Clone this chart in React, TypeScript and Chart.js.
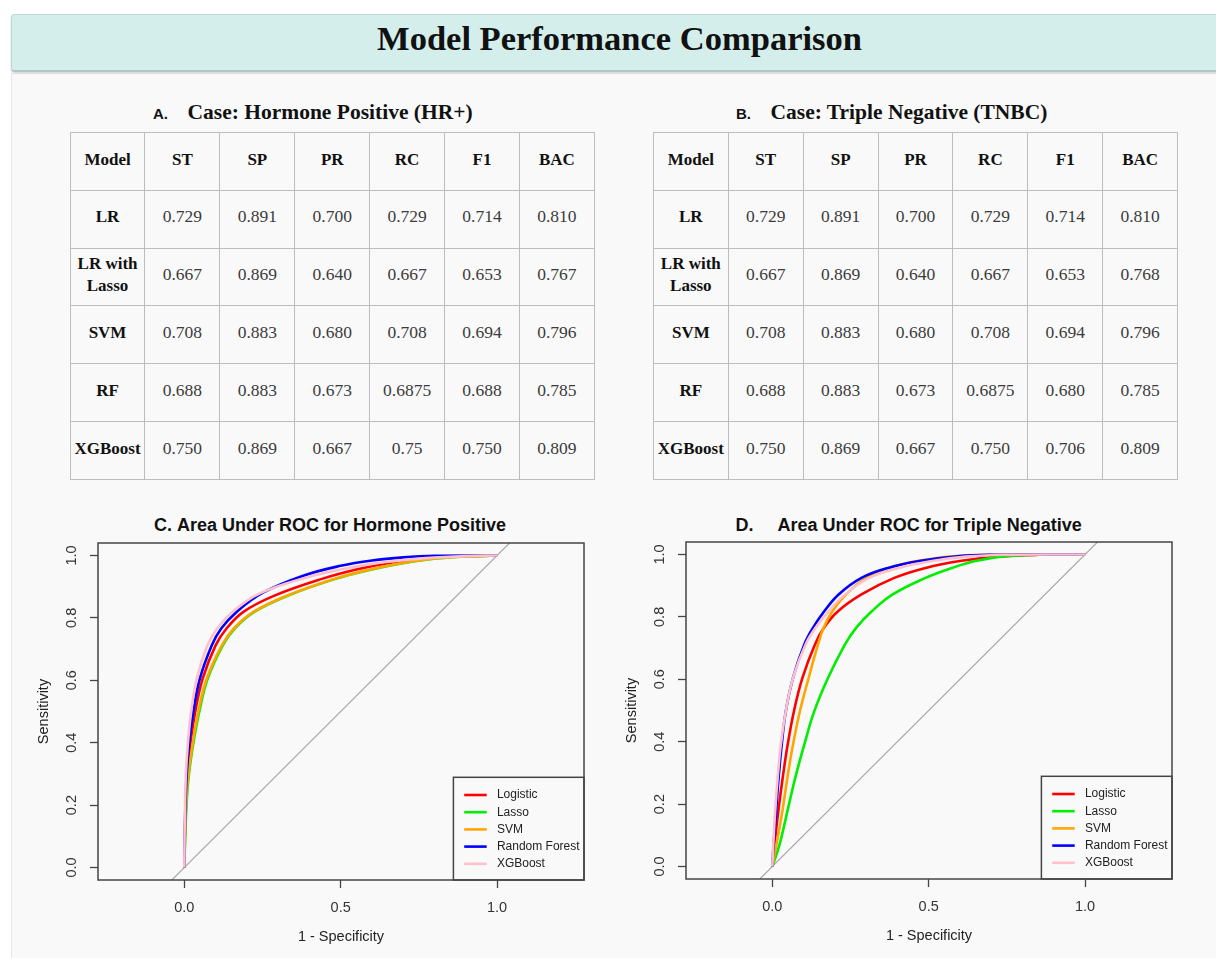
import React, { useEffect, useRef } from 'react';
import { Chart, registerables } from 'chart.js';

Chart.register(...registerables);

// ---------------- Table data ----------------
const tableHeaders = ['Model', 'ST', 'SP', 'PR', 'RC', 'F1', 'BAC'];
const modelNames = ['LR', 'LR with Lasso', 'SVM', 'RF', 'XGBoost'];

const hrLR = ['0.729', '0.891', '0.700', '0.729', '0.714', '0.810'];
const hrLasso = ['0.667', '0.869', '0.640', '0.667', '0.653', '0.767'];
const hrSVM = ['0.708', '0.883', '0.680', '0.708', '0.694', '0.796'];
const hrRF = ['0.688', '0.883', '0.673', '0.6875', '0.688', '0.785'];
const hrXGB = ['0.750', '0.869', '0.667', '0.75', '0.750', '0.809'];

const tnLR = ['0.729', '0.891', '0.700', '0.729', '0.714', '0.810'];
const tnLasso = ['0.667', '0.869', '0.640', '0.667', '0.653', '0.768'];
const tnSVM = ['0.708', '0.883', '0.680', '0.708', '0.694', '0.796'];
const tnRF = ['0.688', '0.883', '0.673', '0.6875', '0.680', '0.785'];
const tnXGB = ['0.750', '0.869', '0.667', '0.750', '0.706', '0.809'];

// ---------------- ROC data (1 - specificity, sensitivity) ----------------
// C. Hormone Positive
const hrLogisticFpr = [0, 0.001, 0.004, 0.009, 0.019, 0.035, 0.059, 0.1, 0.135, 0.19, 0.29, 0.44, 0.55, 0.65, 0.75, 0.86, 1];
const hrLogisticSens = [0, 0.07, 0.18, 0.287, 0.393, 0.5, 0.606, 0.712, 0.766, 0.82, 0.872, 0.925, 0.955, 0.975, 0.988, 0.996, 1];
const hrLassoFpr = [0, 0.002, 0.006, 0.0135, 0.028, 0.048, 0.075, 0.123, 0.161, 0.225, 0.333, 0.483, 0.585, 0.685, 0.785, 0.885, 1];
const hrLassoSens = [0, 0.07, 0.18, 0.287, 0.393, 0.5, 0.606, 0.712, 0.766, 0.82, 0.872, 0.925, 0.952, 0.973, 0.988, 0.996, 1];
const hrSvmFpr = [0, 0.0015, 0.005, 0.012, 0.026, 0.045, 0.072, 0.12, 0.158, 0.222, 0.33, 0.48, 0.58, 0.68, 0.78, 0.88, 1];
const hrSvmSens = [0, 0.07, 0.18, 0.287, 0.393, 0.5, 0.606, 0.712, 0.766, 0.82, 0.872, 0.925, 0.952, 0.973, 0.988, 0.996, 1];
const hrRfFpr = [0, 0.0008, 0.003, 0.007, 0.015, 0.029, 0.05, 0.088, 0.118, 0.168, 0.25, 0.38, 0.5, 0.6, 0.7, 0.8, 1];
const hrRfSens = [0, 0.07, 0.18, 0.287, 0.393, 0.5, 0.606, 0.712, 0.766, 0.82, 0.88, 0.935, 0.967, 0.984, 0.994, 0.999, 1];
const hrXgbFpr = [0, 0.0005, 0.002, 0.0045, 0.011, 0.022, 0.04, 0.074, 0.105, 0.155, 0.245, 0.4, 0.5, 0.6, 0.7, 0.8, 0.9, 1];
const hrXgbSens = [0, 0.07, 0.18, 0.287, 0.393, 0.5, 0.606, 0.712, 0.766, 0.82, 0.88, 0.932, 0.955, 0.973, 0.985, 0.993, 0.998, 1];

// D. Triple Negative
const tnLogisticFpr = [0, 0.007, 0.019, 0.033, 0.049, 0.069, 0.096, 0.136, 0.165, 0.21, 0.285, 0.39, 0.49, 0.6, 0.72, 0.85, 1];
const tnLogisticSens = [0, 0.07, 0.176, 0.283, 0.39, 0.497, 0.604, 0.711, 0.765, 0.818, 0.872, 0.925, 0.957, 0.979, 0.993, 0.999, 1];
const tnLassoFpr = [0, 0.023, 0.048, 0.073, 0.102, 0.134, 0.178, 0.232, 0.268, 0.318, 0.385, 0.49, 0.575, 0.65, 0.75, 0.85, 1];
const tnLassoSens = [0, 0.07, 0.176, 0.283, 0.39, 0.497, 0.604, 0.711, 0.765, 0.818, 0.872, 0.925, 0.957, 0.979, 0.995, 0.999, 1];
const tnSvmFpr = [0, 0.013, 0.032, 0.048, 0.066, 0.088, 0.116, 0.146, 0.164, 0.192, 0.236, 0.3, 0.39, 0.5, 0.6, 0.75, 1];
const tnSvmSens = [0, 0.07, 0.176, 0.283, 0.39, 0.497, 0.604, 0.711, 0.765, 0.818, 0.872, 0.925, 0.962, 0.985, 0.996, 0.9995, 1];
const tnRfFpr = [0, 0.004, 0.012, 0.02, 0.03, 0.043, 0.066, 0.102, 0.13, 0.166, 0.212, 0.285, 0.37, 0.47, 0.6, 0.7, 1];
const tnRfSens = [0, 0.07, 0.176, 0.283, 0.39, 0.497, 0.604, 0.711, 0.765, 0.818, 0.872, 0.925, 0.957, 0.979, 0.995, 0.999, 1];
const tnXgbFpr = [0, 0.003, 0.009, 0.017, 0.027, 0.043, 0.066, 0.106, 0.138, 0.18, 0.232, 0.31, 0.405, 0.51, 0.62, 0.75, 1];
const tnXgbSens = [0, 0.07, 0.176, 0.283, 0.39, 0.497, 0.604, 0.711, 0.765, 0.818, 0.872, 0.925, 0.957, 0.979, 0.993, 0.999, 1];

const diagonalX = [-1, 2];
const diagonalY = [-1, 2];

const legendLabels = ['Logistic', 'Lasso', 'SVM', 'Random Forest', 'XGBoost'];
const curveColors = ['#ff0000', '#00ee00', '#ffa500', '#0000ff', '#ffc0cb'];

const xTickValues = [0, 0.5, 1];
const yTickValues = [0, 0.2, 0.4, 0.6, 0.8, 1];

const SANS = '"Liberation Sans", Arial, Helvetica, sans-serif';
const SERIF = '"Liberation Serif", "Times New Roman", serif';

const toPoints = (xs: number[], ys: number[]) => xs.map((x, i) => ({ x, y: ys[i] }));

const rBoxPlugin = {
  id: 'rbox',
  afterDatasetsDraw(chart: any, _args: any, opts: any) {
    const { ctx, chartArea: a } = chart;
    ctx.save();
    const lw = opts.legendWidth;
    const lh = opts.legendHeight;
    const lx = a.right - lw;
    const ly = a.bottom - lh;
    ctx.fillStyle = opts.bg;
    ctx.fillRect(lx, ly, lw, lh);
    ctx.strokeStyle = opts.boxColor;
    ctx.lineWidth = 1.5;
    ctx.strokeRect(lx, ly, lw, lh);
    ctx.font = `12px ${SANS}`;
    ctx.textBaseline = 'middle';
    ctx.textAlign = 'left';
    legendLabels.forEach((lab, i) => {
      const y = ly + 17.7 + i * 17.2;
      ctx.strokeStyle = curveColors[i];
      ctx.lineWidth = 2.6;
      ctx.beginPath();
      ctx.moveTo(lx + 10.8, y);
      ctx.lineTo(lx + 33.3, y);
      ctx.stroke();
      ctx.fillStyle = '#222';
      ctx.fillText(lab, lx + 43.5, y);
    });
    ctx.strokeStyle = opts.boxColor;
    ctx.lineWidth = 1.5;
    ctx.strokeRect(a.left, a.top, a.right - a.left, a.bottom - a.top);
    ctx.restore();
  },
};

type Curve = { fpr: number[]; sens: number[] };

function RocChart({ curves, left, top }: { curves: Curve[]; left: number; top: number }) {
  const ref = useRef<HTMLCanvasElement>(null);
  useEffect(() => {
    if (!ref.current) return;
    const tickFont = { family: SANS, size: 14.5 };
    const datasets: any[] = curves.map((c, i) => ({
      label: legendLabels[i],
      data: toPoints(c.fpr, c.sens),
      showLine: true,
      borderColor: curveColors[i],
      backgroundColor: curveColors[i],
      borderWidth: 2.6,
      pointRadius: 0,
      tension: 0.4,
      order: curves.length - i,
    }));
    datasets.push({
      label: 'diagonal',
      data: toPoints(diagonalX, diagonalY),
      showLine: true,
      borderColor: '#a8a8a8',
      borderWidth: 1.2,
      pointRadius: 0,
      order: 10,
    });
    const chart = new Chart(ref.current, {
      type: 'scatter',
      data: { datasets },
      options: {
        animation: false,
        responsive: false,
        events: [],
        layout: { padding: { top: 5, right: 21, bottom: 0, left: 0 } },
        plugins: {
          legend: { display: false },
          tooltip: { enabled: false },
          rbox: { legendWidth: 130.6, legendHeight: 102.7, bg: '#f9f9f9', boxColor: '#444' },
        } as any,
        scales: {
          x: {
            type: 'linear',
            min: -0.276,
            max: 1.278,
            afterBuildTicks: (s: any) => {
              s.ticks = xTickValues.map((v) => ({ value: v }));
            },
            afterFit: (s: any) => {
              s.height = 75;
              s.paddingLeft = 0;
              s.paddingRight = 0;
            },
            ticks: {
              callback: (v: any) => Number(v).toFixed(1),
              font: tickFont,
              color: '#333',
              padding: 11,
              minRotation: 0,
              maxRotation: 0,
              autoSkip: false,
            },
            grid: { drawOnChartArea: false, drawTicks: true, tickLength: 8, tickColor: '#444', tickWidth: 1.3 },
            border: { display: false },
            title: { display: true, text: '1 - Specificity', font: tickFont, color: '#222', padding: { top: 0, bottom: 9 } },
          },
          y: {
            type: 'linear',
            min: -0.04,
            max: 1.04,
            afterBuildTicks: (s: any) => {
              s.ticks = yTickValues.map((v) => ({ value: v }));
            },
            afterFit: (s: any) => {
              s.width = 78;
              s.paddingTop = 0;
              s.paddingBottom = 0;
            },
            ticks: {
              callback: (v: any) => Number(v).toFixed(1),
              font: tickFont,
              color: '#333',
              padding: 8,
              minRotation: 90,
              maxRotation: 90,
              crossAlign: 'center',
              autoSkip: false,
            },
            grid: { drawOnChartArea: false, drawTicks: true, tickLength: 8, tickColor: '#444', tickWidth: 1.3 },
            border: { display: false },
            title: { display: true, text: 'Sensitivity', font: tickFont, color: '#222', padding: { top: 15, bottom: 0 } },
          },
        },
      } as any,
      plugins: [rBoxPlugin],
    });
    return () => chart.destroy();
  }, []);
  return <canvas ref={ref} width={585} height={417} style={{ position: 'absolute', left, top }} />;
}

function MetricsTable({ left, rows }: { left: number; rows: string[][] }) {
  const colW = 74.9;
  const rowH = 57.8;
  const border = '1.5px solid #bdbdbd';
  const cell = (bold: boolean): React.CSSProperties => ({
    boxSizing: 'border-box',
    borderRight: border,
    borderBottom: border,
    display: 'flex',
    alignItems: 'center',
    justifyContent: 'center',
    textAlign: 'center',
    fontFamily: SERIF,
    fontSize: bold ? 17 : 17.5,
    fontWeight: bold ? 700 : 400,
    color: bold ? '#111' : '#3c3c3c',
    lineHeight: '21.7px',
    paddingBottom: 4,
  });
  return (
    <div
      style={{
        position: 'absolute',
        left,
        top: 132,
        display: 'grid',
        gridTemplateColumns: `repeat(7, ${colW}px)`,
        gridTemplateRows: `repeat(6, ${rowH}px)`,
        borderTop: border,
        borderLeft: border,
      }}
    >
      {tableHeaders.map((h) => (
        <div key={'h' + h} style={cell(true)}>
          {h}
        </div>
      ))}
      {modelNames.map((m, i) => (
        <React.Fragment key={m}>
          <div style={cell(true)}>{m}</div>
          {rows[i].map((v, j) => (
            <div key={j} style={cell(false)}>
              {v}
            </div>
          ))}
        </React.Fragment>
      ))}
    </div>
  );
}

function TableTitle({ left, letter, text }: { left: number; letter: string; text: string }) {
  return (
    <div style={{ position: 'absolute', left, top: 100, lineHeight: '24px', whiteSpace: 'nowrap', color: '#111' }}>
      <span style={{ display: 'inline-block', width: 34.5, fontFamily: SANS, fontWeight: 700, fontSize: 15 }}>{letter}</span>
      <span style={{ fontFamily: SERIF, fontWeight: 700, fontSize: 21.5 }}>{text}</span>
    </div>
  );
}

function PlotTitle({ left, letter, gap, text }: { left: number; letter: string; gap: number; text: string }) {
  return (
    <div
      style={{
        position: 'absolute',
        left,
        top: 514,
        lineHeight: '22px',
        whiteSpace: 'nowrap',
        fontFamily: SANS,
        fontWeight: 700,
        fontSize: 18,
        color: '#111',
      }}
    >
      <span style={{ display: 'inline-block', width: gap }}>{letter}</span>
      <span>{text}</span>
    </div>
  );
}

export default function App() {
  const hrCurves: Curve[] = [
    { fpr: hrLogisticFpr, sens: hrLogisticSens },
    { fpr: hrLassoFpr, sens: hrLassoSens },
    { fpr: hrSvmFpr, sens: hrSvmSens },
    { fpr: hrRfFpr, sens: hrRfSens },
    { fpr: hrXgbFpr, sens: hrXgbSens },
  ];
  const tnCurves: Curve[] = [
    { fpr: tnLogisticFpr, sens: tnLogisticSens },
    { fpr: tnLassoFpr, sens: tnLassoSens },
    { fpr: tnSvmFpr, sens: tnSvmSens },
    { fpr: tnRfFpr, sens: tnRfSens },
    { fpr: tnXgbFpr, sens: tnXgbSens },
  ];
  return (
    <div style={{ position: 'absolute', left: 0, top: 0, width: 1216, height: 958, background: '#ffffff', overflow: 'hidden' }}>
      <div
        style={{
          position: 'absolute',
          left: 11,
          top: 73,
          width: 1215,
          height: 890,
          background: '#f9f9f9',
          borderLeft: '1px solid #ece6e6',
          borderTop: '1px solid #efe9e9',
        }}
      />
      <div
        style={{
          position: 'absolute',
          left: 11,
          top: 14,
          width: 1220,
          height: 55,
          background: '#d4efeb',
          border: '1px solid #c3d6d4',
          borderBottom: '2px solid #b3c6c4',
          borderRadius: 4,
          boxShadow: '0 1px 2px rgba(0,0,0,0.18)',
        }}
      />
      <div
        style={{
          position: 'absolute',
          left: 0,
          top: 14,
          width: 1239,
          textAlign: 'center',
          lineHeight: '49px',
          fontFamily: SERIF,
          fontWeight: 700,
          fontSize: 34.5,
          color: '#111',
          whiteSpace: 'nowrap',
        }}
      >
        Model Performance Comparison
      </div>

      <TableTitle left={153} letter="A." text="Case: Hormone Positive (HR+)" />
      <TableTitle left={736} letter="B." text="Case: Triple Negative (TNBC)" />
      <MetricsTable left={69.6} rows={[hrLR, hrLasso, hrSVM, hrRF, hrXGB]} />
      <MetricsTable left={652.9} rows={[tnLR, tnLasso, tnSVM, tnRF, tnXGB]} />

      <PlotTitle left={154} letter="C." gap={23} text="Area Under ROC for Hormone Positive" />
      <PlotTitle left={735.6} letter="D." gap={42} text="Area Under ROC for Triple Negative" />
      <RocChart curves={hrCurves} left={20} top={538} />
      <RocChart curves={tnCurves} left={608} top={537} />
    </div>
  );
}
